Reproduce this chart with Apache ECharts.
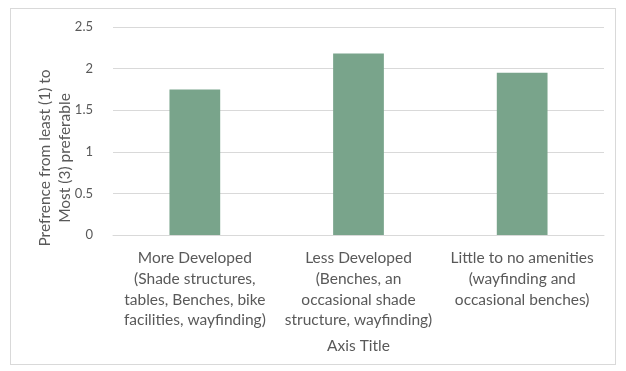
<!DOCTYPE html>
<html>
<head>
<meta charset="utf-8">
<script src="https://cdn.jsdelivr.net/npm/echarts@6/dist/echarts.min.js"></script>
<style>
html,body{margin:0;padding:0;background:#fff;}
#frame{position:absolute;left:10px;top:8px;width:606px;height:357px;border:1px solid #d9d9d9;box-sizing:border-box;}
#chart{position:absolute;left:0;top:0;width:626px;height:371px;}
</style>
</head>
<body>
<div id="frame"></div>
<div id="chart"></div>
<script>
var categories = [
  "More Developed\n(Shade structures,\ntables, Benches, bike\nfacilities, wayfinding)",
  "Less Developed\n(Benches, an\noccasional shade\nstructure, wayfinding)",
  "Little to no amenities\n(wayfinding and\noccasional benches)"
];
var values = [1.75, 2.18, 1.95];
var yTitle = "Prefrence from least (1) to\nMost (3) preferable";
var xTitle = "Axis Title";

var font = "Lato, 'Open Sans', sans-serif";
var chart = echarts.init(document.getElementById('chart'), null, {renderer: 'canvas'});
chart.setOption({
  animation: false,
  grid: {left: 113, right: 22, top: 27, bottom: 136, containLabel: false},
  xAxis: {
    type: 'category',
    data: categories,
    axisLine: {lineStyle: {color: '#d9d9d9'}},
    axisTick: {show: false},
    axisLabel: {color: '#595959', fontFamily: font, fontSize: 15.5, lineHeight: 20.7, margin: 13, interval: 0},
    name: xTitle,
    nameLocation: 'middle',
    nameGap: 103,
    nameTextStyle: {color: '#595959', fontFamily: font, fontSize: 15.5}
  },
  yAxis: {
    type: 'value',
    min: 0, max: 2.5, interval: 0.5,
    axisLine: {show: false},
    axisTick: {show: false},
    splitLine: {lineStyle: {color: '#d9d9d9'}},
    axisLabel: {color: '#595959', fontFamily: font, fontSize: 13, margin: 20}
  },
  graphic: [{
    type: 'text',
    x: 55, y: 158,
    rotation: Math.PI / 2,
    style: {
      text: yTitle,
      fill: '#595959',
      font: "15.5px " + font,
      lineHeight: 20,
      align: 'center',
      verticalAlign: 'middle'
    }
  }],
  series: [{
    type: 'bar',
    data: values,
    barWidth: '31%',
    itemStyle: {color: '#79a48b'}
  }]
});
</script>
</body>
</html>
